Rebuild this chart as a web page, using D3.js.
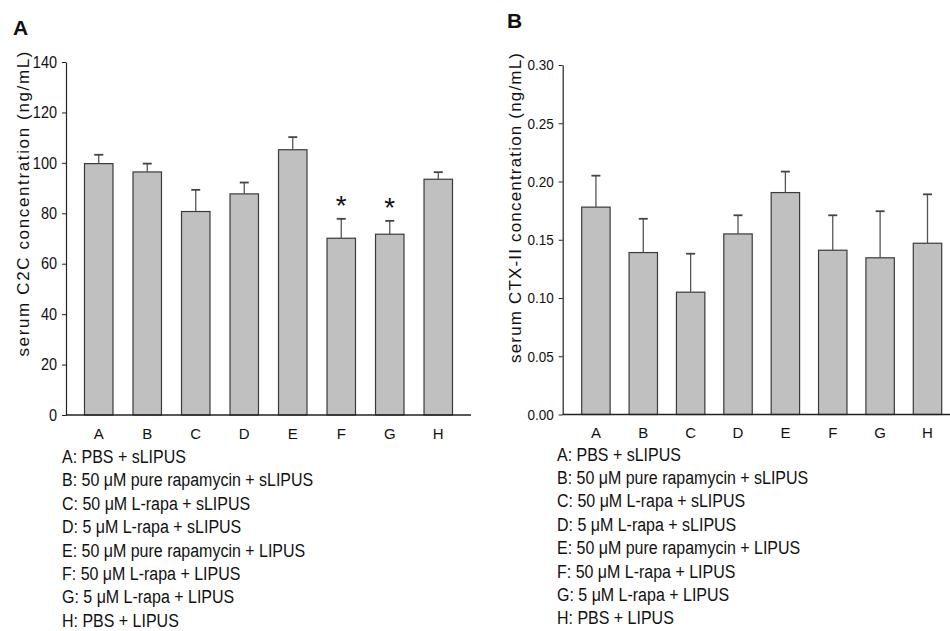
<!DOCTYPE html>
<html>
<head>
<meta charset="utf-8">
<script src="https://cdn.jsdelivr.net/npm/d3@7"></script>
<style>
  body { margin: 0; background: #fff; }
  text { font-family: "Liberation Sans", Arial, sans-serif; fill: #111; }
</style>
</head>
<body>
<div id="chart"></div>
<script>
// data
const categories = ["A", "B", "C", "D", "E", "F", "G", "H"];

const c2cMean = [99.7, 96.4, 80.7, 87.7, 105.2, 70.1, 71.7, 93.5];
const c2cErr = [3.5, 3.3, 8.6, 4.5, 5.0, 7.7, 5.3, 2.8];
const c2cSignificant = [false, false, false, false, false, true, true, false];
const c2cTicks = [0, 20, 40, 60, 80, 100, 120, 140];

const ctxMean = [0.178, 0.139, 0.105, 0.155, 0.1905, 0.141, 0.1345, 0.147];
const ctxErr = [0.027, 0.029, 0.033, 0.016, 0.018, 0.030, 0.040, 0.042];
const ctxSignificant = [false, false, false, false, false, false, false, false];
const ctxTicks = [0, 0.05, 0.10, 0.15, 0.20, 0.25, 0.30];

const groupLabels = [
  "A: PBS + sLIPUS",
  "B: 50 \u03bcM pure rapamycin + sLIPUS",
  "C: 50 \u03bcM L-rapa + sLIPUS",
  "D: 5 \u03bcM L-rapa + sLIPUS",
  "E: 50 \u03bcM pure rapamycin + LIPUS",
  "F: 50 \u03bcM L-rapa + LIPUS",
  "G: 5 \u03bcM L-rapa + LIPUS",
  "H: PBS + LIPUS",
];

const svg = d3
  .select("#chart")
  .append("svg")
  .attr("width", 950)
  .attr("height", 631);

// draw one panel of the figure
function drawPanel(p) {
  const g = svg.append("g");

  const y = d3.scaleLinear().domain(p.domain).range([p.y0, p.y1]);
  const x = d3
    .scaleBand()
    .domain(categories)
    .range(p.bandRange)
    .paddingInner(p.padding)
    .paddingOuter(0);

  // y axis
  const yAxis = g
    .append("g")
    .attr("transform", `translate(${p.axisX},0)`)
    .call(
      d3.axisLeft(y)
        .tickValues(p.ticks)
        .tickFormat(d3.format(p.format))
        .tickSize(4)
        .tickSizeOuter(0)
        .tickPadding(5)
    );
  yAxis.select(".domain").attr("stroke", "#222").attr("stroke-width", 1.2);
  yAxis.selectAll(".tick line").attr("stroke", "#222");
  yAxis
    .selectAll(".tick text")
    .attr("font-size", p.tickSize)
    .attr("font-family", null)
    .attr("fill", "#111")
    .attr("transform", "scale(1,1.12)");

  // bars
  g.selectAll(".bar")
    .data(categories)
    .join("rect")
    .attr("class", "bar")
    .attr("x", (d) => x(d))
    .attr("y", (d, i) => y(p.mean[i]))
    .attr("width", x.bandwidth())
    .attr("height", (d, i) => y(0) - y(p.mean[i]))
    .attr("fill", "#c0c0c0")
    .attr("stroke", "#3a3a3a")
    .attr("stroke-width", 1.2);

  // error bars (upper only)
  const cx = (d) => x(d) + x.bandwidth() / 2;
  g.selectAll(".err")
    .data(categories)
    .join("line")
    .attr("class", "err")
    .attr("x1", cx)
    .attr("x2", cx)
    .attr("y1", (d, i) => y(p.mean[i]))
    .attr("y2", (d, i) => y(p.mean[i] + p.err[i]))
    .attr("stroke", "#555")
    .attr("stroke-width", 1.3);
  g.selectAll(".cap")
    .data(categories)
    .join("line")
    .attr("class", "cap")
    .attr("x1", (d) => cx(d) - 4.5)
    .attr("x2", (d) => cx(d) + 4.5)
    .attr("y1", (d, i) => y(p.mean[i] + p.err[i]))
    .attr("y2", (d, i) => y(p.mean[i] + p.err[i]))
    .attr("stroke", "#444")
    .attr("stroke-width", 1.8);

  // significance stars
  g.selectAll(".star")
    .data(categories.filter((d, i) => p.sig[i]))
    .join("text")
    .attr("class", "star")
    .attr("x", cx)
    .attr("y", (d) => {
      const i = categories.indexOf(d);
      return y(p.mean[i] + p.err[i]) - 4;
    })
    .attr("text-anchor", "middle")
    .attr("font-size", 28)
    .text("*");

  // x axis line
  g.append("line")
    .attr("x1", p.axisX)
    .attr("x2", p.axisEnd)
    .attr("y1", y(0))
    .attr("y2", y(0))
    .attr("stroke", "#222")
    .attr("stroke-width", 1.3);

  // category labels
  g.selectAll(".cat")
    .data(categories)
    .join("text")
    .attr("class", "cat")
    .attr("x", cx)
    .attr("y", p.catY)
    .attr("text-anchor", "middle")
    .attr("font-size", 15)
    .text((d) => d);

  // y axis title
  g.append("text")
    .attr("transform", `translate(${p.titleX},${p.titleY}) rotate(-90)`)
    .attr("text-anchor", "middle")
    .attr("font-size", 17)
    .attr("textLength", p.titleLength)
    .attr("lengthAdjust", "spacing")
    .text(p.title);

  // panel letter
  g.append("text")
    .attr("x", p.letterX)
    .attr("y", p.letterY)
    .attr("font-size", 21)
    .attr("font-weight", "bold")
    .text(p.letter);

  // group legend below the chart
  g.selectAll(".legend")
    .data(groupLabels)
    .join("text")
    .attr("class", "legend")
    .attr("transform", (d, i) =>
      `translate(${p.legendX},${p.legendY + i * p.legendStep}) scale(1,1.1)`)
    .attr("font-size", 16)
    .text((d) => d);
}

drawPanel({
  letter: "A", letterX: 13, letterY: 35,
  domain: [0, 140], y0: 415, y1: 62, ticks: c2cTicks, format: "d", tickSize: 14.5,
  mean: c2cMean, err: c2cErr, sig: c2cSignificant,
  axisX: 66, axisEnd: 471, bandRange: [84.5, 452.5], padding: 0.413,
  catY: 439,
  title: "serum C2C concentration (ng/mL)", titleX: 29, titleY: 204, titleLength: 305,
  legendX: 62, legendY: 463, legendStep: 23.4,
});

drawPanel({
  letter: "B", letterX: 507, letterY: 27.5,
  domain: [0, 0.3], y0: 414.5, y1: 65, ticks: ctxTicks, format: ".2f", tickSize: 13.5,
  mean: ctxMean, err: ctxErr, sig: ctxSignificant,
  axisX: 562.7, axisEnd: 950, bandRange: [581.7, 941.7], padding: 0.4,
  catY: 438,
  title: "serum CTX-II concentration (ng/mL)", titleX: 521, titleY: 208, titleLength: 310,
  legendX: 557, legendY: 460.5, legendStep: 23.4,
});
</script>
</body>
</html>
